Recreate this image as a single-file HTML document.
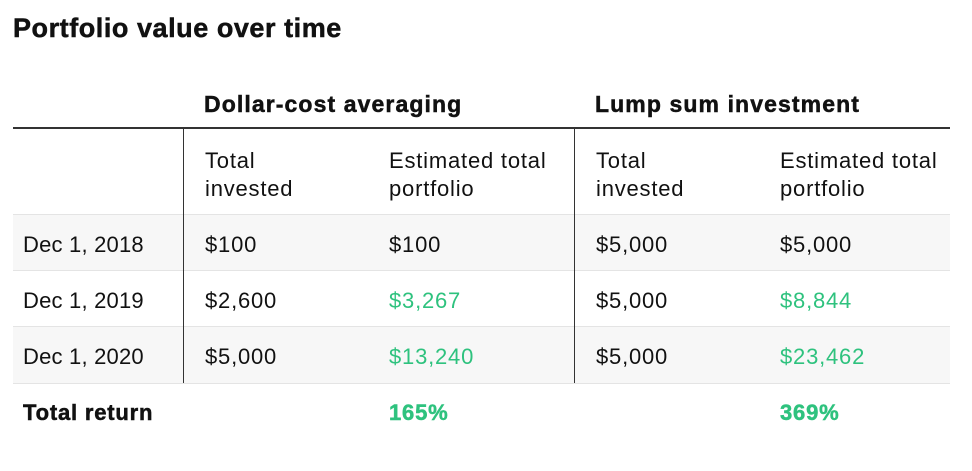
<!DOCTYPE html>
<html><head><style>
body{margin:0;width:972px;height:471px;background:#fff;font-family:"Liberation Sans",sans-serif;color:#111;position:relative;overflow:hidden}
div{position:absolute}
.t{font-size:22px;line-height:28px;white-space:nowrap;letter-spacing:0.8px}
.b{font-weight:bold;-webkit-text-stroke:0.5px currentColor}
.g{color:#2ec27e}
.row{left:13px;width:937px;border-top:1px solid #e4e4e4}
</style></head><body>
<div class="b" style="left:13px;top:13px;font-size:27px;letter-spacing:0.55px;white-space:nowrap">Portfolio value over time</div>
<div class="b t" style="left:204px;top:90px;font-size:23px;letter-spacing:1.1px">Dollar-cost averaging</div>
<div class="b t" style="left:595px;top:90px;font-size:23px;letter-spacing:1.1px">Lump sum investment</div>
<div style="left:13px;top:127px;width:937px;height:2px;background:#333"></div>
<div class="row" style="top:214px;height:56px;background:#f7f7f7"></div>
<div class="row" style="top:270px;height:56px;background:#fff"></div>
<div class="row" style="top:326px;height:56px;background:#f7f7f7;border-bottom:1px solid #e4e4e4"></div>
<div style="left:183px;top:129px;width:1px;height:254px;background:#333"></div>
<div style="left:574px;top:129px;width:1px;height:254px;background:#333"></div>
<div class="t" style="left:205px;top:147px">Total<br>invested</div>
<div class="t" style="left:389px;top:147px">Estimated total<br>portfolio</div>
<div class="t" style="left:596px;top:147px">Total<br>invested</div>
<div class="t" style="left:780px;top:147px">Estimated total<br>portfolio</div>

<div class="t" style="left:23px;top:231px;letter-spacing:0.2px">Dec 1, 2018</div>
<div class="t" style="left:205px;top:231px">$100</div>
<div class="t" style="left:389px;top:231px">$100</div>
<div class="t" style="left:596px;top:231px">$5,000</div>
<div class="t" style="left:780px;top:231px">$5,000</div>

<div class="t" style="left:23px;top:287px;letter-spacing:0.2px">Dec 1, 2019</div>
<div class="t" style="left:205px;top:287px">$2,600</div>
<div class="t g" style="left:389px;top:287px">$3,267</div>
<div class="t" style="left:596px;top:287px">$5,000</div>
<div class="t g" style="left:780px;top:287px">$8,844</div>

<div class="t" style="left:23px;top:343px;letter-spacing:0.2px">Dec 1, 2020</div>
<div class="t" style="left:205px;top:343px">$5,000</div>
<div class="t g" style="left:389px;top:343px">$13,240</div>
<div class="t" style="left:596px;top:343px">$5,000</div>
<div class="t g" style="left:780px;top:343px">$23,462</div>

<div class="t b" style="left:23px;top:399px">Total return</div>
<div class="t b g" style="left:389px;top:399px">165%</div>
<div class="t b g" style="left:780px;top:399px">369%</div>
</body></html>
